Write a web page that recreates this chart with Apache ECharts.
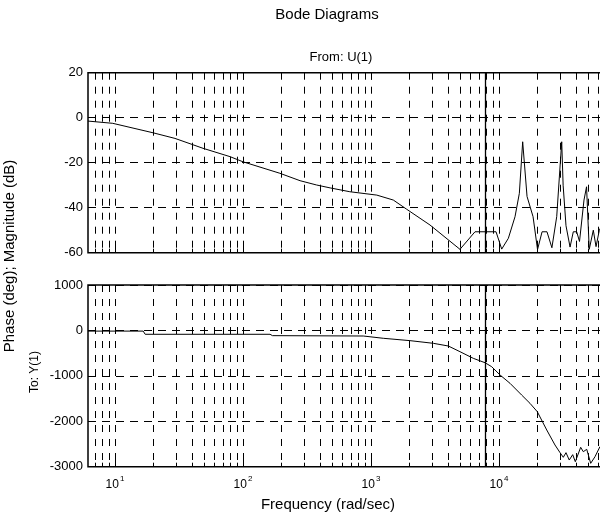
<!DOCTYPE html>
<html><head><meta charset="utf-8">
<script src="https://cdn.jsdelivr.net/npm/echarts@6/dist/echarts.min.js"></script>
<style>html,body{margin:0;padding:0;background:#fff}#c{width:600px;height:532px}</style>
</head><body><div id="c"></div>
<script>
// ---- data ----
const magFreq = [6.15, 9.6, 19.8, 29.4, 48.7, 79.1, 100, 194, 279, 375, 479, 683, 1110, 1494, 1901, 2890, 4955, 6494, 9480, 10500, 11830, 13340, 14420, 15310, 16560, 18450, 20000, 21700, 23700, 25900, 28240, 30900, 31700, 33370, 35900, 38050, 40450, 42550, 46130, 48300, 50700, 54550, 57300, 60800, 64940];
const magDb = [-1.5, -2.5, -6.7, -9.2, -13.6, -17.3, -19.6, -24.7, -28.0, -29.9, -31.2, -32.9, -34.4, -36.6, -40.7, -47.7, -58.5, -50.7, -50.7, -58.4, -53.6, -44, -33.6, -10.7, -35, -44, -58.6, -50.7, -50.7, -57.8, -44, -10.7, -30, -48, -57.5, -50.7, -50.7, -55, -36.6, -30.7, -58.5, -50, -57.3, -50, -47];
const phaseFreq = [6.15, 16.6, 17.2, 162.6, 170, 871, 1248, 2018, 3070, 4018, 4955, 6295, 7780, 8770, 10190, 12190, 15030, 17460, 19910, 23600, 27380, 29990, 31790, 33370, 35390, 37640, 39470, 43460, 45560, 48450, 52040, 56230, 61500];
const phaseDeg = [-15, -15, -85, -85, -115, -123, -173, -225, -284, -343, -468, -614, -711, -799, -981, -1164, -1422, -1605, -1789, -2192, -2522, -2691, -2793, -2691, -2853, -2735, -2890, -2573, -2670, -2617, -2926, -2780, -2558];
const magTicks = [-60, -40, -20, 0, 20];
const phaseTicks = [-3000, -2000, -1000, 0, 1000];
const freqDecades = [1, 10, 100, 1000, 10000];
const minorMultipliers = [2, 3, 4, 5, 6, 7, 8, 9];
const nyquistFreq = 7854;
const freqMin = 6.15, freqMax = 100000;

const FONT = 'Liberation Sans, Arial, Helvetica, sans-serif';
const majors = freqDecades.filter(v => v >= freqMin && v <= freqMax);
const minors = [];
freqDecades.forEach(d => minorMultipliers.forEach(m => { const v = d * m; if (v >= freqMin && v <= freqMax) minors.push(v); }));
const gridVals = majors.concat(minors);

function buildMarkLines(ymin, ymax, pxUnit) {
  const data = [];
  gridVals.forEach(v => data.push([{coord: [v, ymax]}, {coord: [v, ymin], lineStyle: {type: [7, 7], color: '#000', width: 1}}]));
  minors.forEach(v => {
    data.push([{coord: [v, ymin]}, {coord: [v, ymin + 4 * pxUnit], lineStyle: {type: 'solid', color: '#000', width: 1}}]);
    data.push([{coord: [v, ymax]}, {coord: [v, ymax - 4 * pxUnit], lineStyle: {type: 'solid', color: '#000', width: 1}}]);
  });
  majors.forEach(v => {
    data.push([{coord: [v, ymin]}, {coord: [v, ymin + 7 * pxUnit], lineStyle: {type: 'solid', color: '#000', width: 1}}]);
    data.push([{coord: [v, ymax]}, {coord: [v, ymax - 7 * pxUnit], lineStyle: {type: 'solid', color: '#000', width: 1}}]);
  });
  data.push([{coord: [nyquistFreq, ymax]}, {coord: [nyquistFreq, ymin], lineStyle: {type: 'solid', color: '#000', width: 1.3}}]);
  return {silent: true, symbol: ['none', 'none'], label: {show: false}, animation: false, emphasis: {disabled: true}, data: data};
}

const chart = echarts.init(document.getElementById('c'), null, {renderer: 'canvas'});
const yCommon = (idx, mn, mx, step) => ({
  type: 'value', gridIndex: idx, min: mn, max: mx, interval: step,
  axisLine: {show: false},
  axisTick: {show: true, inside: true, length: 5, lineStyle: {color: '#000'}},
  axisLabel: {color: '#000', fontFamily: FONT, fontSize: 13, margin: 5, formatter: v => String(v)},
  splitLine: {show: true, lineStyle: {type: [8, 6], color: '#000', width: 1}}
});
const isDecade = v => Math.abs(Math.log10(v) - Math.round(Math.log10(v))) < 1e-6;
chart.setOption({
  animation: false,
  backgroundColor: '#fff',
  grid: [
    {left: 88, top: 72.7, height: 180, width: 539, show: true, borderColor: '#000', borderWidth: 1.5, containLabel: false, outerBoundsMode: 'none'},
    {left: 88, top: 285, height: 181.7, width: 539, show: true, borderColor: '#000', borderWidth: 1.5, containLabel: false, outerBoundsMode: 'none'}
  ],
  xAxis: [
    {type: 'log', logBase: 10, gridIndex: 0, min: freqMin, max: freqMax, axisLine: {show: false}, axisTick: {show: false}, axisLabel: {show: false}, splitLine: {show: false}},
    {type: 'log', logBase: 10, gridIndex: 1, min: freqMin, max: freqMax, axisLine: {show: false}, axisTick: {show: false}, splitLine: {show: false},
      axisLabel: {show: true, showMinLabel: false, showMaxLabel: false, margin: 8,
        formatter: v => isDecade(v) ? '{b|10}{e|' + Math.round(Math.log10(v)) + '}' : '',
        rich: {b: {fontFamily: FONT, fontSize: 12, color: '#000', lineHeight: 16, verticalAlign: 'bottom'},
               e: {fontFamily: FONT, fontSize: 8, color: '#000', lineHeight: 16, verticalAlign: 'top', padding: [0, 0, 0, 1]}}}}
  ],
  yAxis: [yCommon(0, magTicks[0], magTicks[magTicks.length - 1], 20), yCommon(1, phaseTicks[0], phaseTicks[phaseTicks.length - 1], 1000)],
  series: [
    {type: 'line', xAxisIndex: 0, yAxisIndex: 0, data: magFreq.map((f, i) => [f, magDb[i]]), symbol: 'none', lineStyle: {color: '#000', width: 1}, z: 5,
      markLine: buildMarkLines(magTicks[0], magTicks[magTicks.length - 1], 80 / 180)},
    {type: 'line', xAxisIndex: 1, yAxisIndex: 1, data: phaseFreq.map((f, i) => [f, phaseDeg[i]]), symbol: 'none', lineStyle: {color: '#000', width: 1}, z: 5,
      markLine: buildMarkLines(phaseTicks[0], phaseTicks[phaseTicks.length - 1], 4000 / 181.7)}
  ],
  graphic: [
    {type: 'text', x: 327, y: 15, style: {text: 'Bode Diagrams', font: '15px ' + FONT, fill: '#000', textAlign: 'center', textVerticalAlign: 'middle'}},
    {type: 'text', x: 341, y: 57, style: {text: 'From: U(1)', font: '13px ' + FONT, fill: '#000', textAlign: 'center', textVerticalAlign: 'middle'}},
    {type: 'text', x: 328, y: 505, style: {text: 'Frequency (rad/sec)', font: '15px ' + FONT, fill: '#000', textAlign: 'center', textVerticalAlign: 'middle'}},
    {type: 'text', x: 10, y: 256, rotation: Math.PI / 2, style: {text: 'Phase (deg); Magnitude (dB)', font: '15px ' + FONT, fill: '#000', textAlign: 'center', textVerticalAlign: 'middle'}},
    {type: 'text', x: 35, y: 372, rotation: Math.PI / 2, style: {text: 'To: Y(1)', font: '12px ' + FONT, fill: '#000', textAlign: 'center', textVerticalAlign: 'middle'}}
  ]
});
</script></body></html>
